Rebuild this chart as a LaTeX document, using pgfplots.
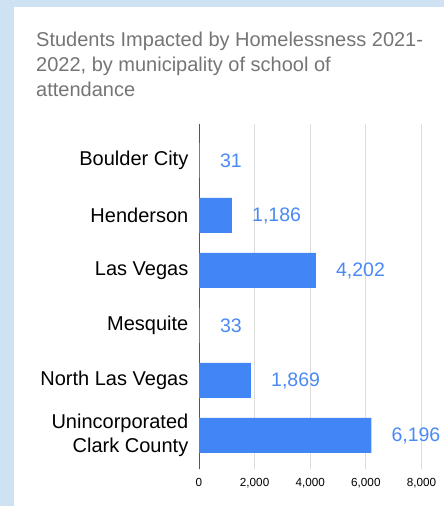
\documentclass[border=0pt]{standalone}
\usepackage{fontspec}
\setmainfont{Liberation Sans}
\usepackage{pgfplots}
\pgfplotsset{compat=1.18}
\definecolor{barblue}{HTML}{4285F4}
\definecolor{lblblue}{HTML}{4A8AF4}
\definecolor{bgblue}{HTML}{CFE2F3}
\definecolor{titlegray}{HTML}{757575}
\definecolor{gridgray}{HTML}{DCDCDC}
\definecolor{axisgray}{HTML}{555555}

\begin{document}
\begin{tikzpicture}
\useasboundingbox (0bp,0bp) rectangle (444bp,506bp);
\fill[bgblue] (0bp,0bp) rectangle (444bp,506bp);
\fill[white] (14bp,0bp) rectangle (444bp,499bp);
% title, one node per line
\begin{scope}[every node/.style={anchor=base west, inner sep=0pt, text=titlegray,
    font=\fontsize{20bp}{24bp}\selectfont}]
\node at (36bp,459.3bp) {Students Impacted by Homelessness 2021-};
\node at (36bp,434.3bp) {2022, by municipality of school of};
\node at (36bp,409.3bp) {attendance};
\end{scope}

\begin{axis}[
    at={(199bp,37bp)}, anchor=south west,
    scale only axis, width=222.5bp, height=345bp,
    xbar, bar width=35bp,
    xmin=0, xmax=8000, ymin=-0.61, ymax=5.663,
    xtick={0,2000,4000,6000,8000},
    ytick={0,1,2,3,4,5},
    yticklabels={{Unincorporated\\Clark County},North Las Vegas,Mesquite,Las Vegas,Henderson,Boulder City},
    axis lines*=left,
    x axis line style={draw=none},
    y axis line style={draw=axisgray, line width=1bp},
    major tick length=0pt,
    xmajorgrids,
    grid style={draw=gridgray, line width=1bp},
    /pgf/number format/assume math mode=true,
    /pgf/number format/1000 sep={,},
    xticklabel style={font=\fontsize{11.7bp}{14bp}\selectfont, inner sep=0pt, anchor=north},
    xticklabel shift=9bp,
    yticklabel style={font=\fontsize{20bp}{24bp}\selectfont, align=right, inner sep=0pt, anchor=east},
    yticklabel shift=10.5bp,
    point meta=x,
    nodes near coords={\pgfmathprintnumber{\pgfplotspointmeta}},
    every node near coord/.append style={font=\fontsize{19.5bp}{22bp}\selectfont,
        text=lblblue, anchor=west, inner sep=0pt, xshift=20bp},
]
\addplot[fill=barblue, draw=none] coordinates {
    (6196,0) (1869,1) (33,2) (4202,3) (1186,4) (31,5)
};
\end{axis}
\end{tikzpicture}
\end{document}
